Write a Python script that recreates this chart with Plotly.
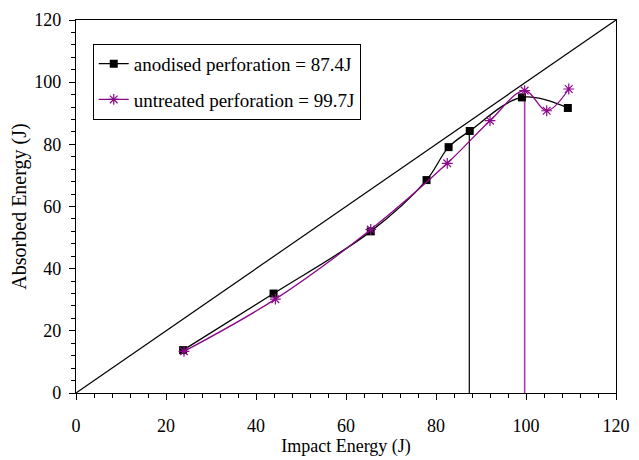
import plotly.graph_objects as go

# Data
anod_x = [23.8, 43.9, 65.5, 77.9, 82.8, 87.5, 99.1, 109.3]
anod_y = [13.8, 32.0, 52.0, 68.5, 79.1, 84.3, 95.1, 91.7]
untr_x = [24.0, 44.3, 65.5, 82.5, 92.0, 99.7, 104.6, 109.5]
untr_y = [13.4, 30.2, 52.6, 73.9, 87.6, 97.3, 90.8, 97.8]
perf_x = [87.4, 99.7]          # perforation energies
perf_top = [84.3, 97.3]         # top of the vertical markers
diag = [0, 120]

BLACK = "#000000"
PURPLE = "#8b088b"
FONT = "Liberation Serif"

fig = go.Figure()

fig.add_trace(go.Scatter(x=diag, y=diag, mode="lines",
                         line=dict(color=BLACK, width=1.2), showlegend=False, hoverinfo="skip"))
fig.add_trace(go.Scatter(x=[perf_x[0], perf_x[0]], y=[0, perf_top[0]], mode="lines",
                         line=dict(color=BLACK, width=1.2), showlegend=False))
fig.add_trace(go.Scatter(x=[perf_x[1], perf_x[1]], y=[0, perf_top[1]], mode="lines",
                         line=dict(color="#a83aa8", width=1.6), showlegend=False))

fig.add_trace(go.Scatter(x=anod_x, y=anod_y, mode="lines+markers",
                         name="anodised perforation = 87.4J", legendgroup="a",
                         line=dict(color=BLACK, width=1.3, shape="spline", smoothing=1.0),
                         marker=dict(symbol="square", size=8, color=BLACK)))
fig.add_trace(go.Scatter(x=untr_x, y=untr_y, mode="lines+markers",
                         name="untreated perforation = 99.7J", legendgroup="b",
                         line=dict(color=PURPLE, width=1.3, shape="spline", smoothing=1.0),
                         marker=dict(symbol="asterisk", size=9, color=PURPLE,
                                     line=dict(color=PURPLE, width=1.2))))

axis_common = dict(range=[0, 120], dtick=20, showgrid=False, zeroline=False,
                   showline=True, linecolor=BLACK, linewidth=1.2, mirror=True,
                   ticks="outside", ticklen=6, tickcolor=BLACK, tickwidth=1,
                   automargin=False,
                   tickfont=dict(family=FONT, size=18, color=BLACK),
                   minor=dict(dtick=4, ticks="outside", ticklen=4, tickcolor=BLACK, tickwidth=1))

fig.update_xaxes(**axis_common, ticklabelstandoff=10,
                 title=dict(text="Impact Energy (J)", font=dict(family=FONT, size=18, color=BLACK), standoff=0))
fig.update_yaxes(**axis_common, ticklabelstandoff=4,
                 title=dict(text="Absorbed Energy (J)", font=dict(family=FONT, size=20, color=BLACK), standoff=2))

fig.update_layout(
    width=639, height=460,
    margin=dict(l=76, r=23, t=20, b=67),
    paper_bgcolor="white", plot_bgcolor="white",
    font=dict(family=FONT, size=18, color=BLACK),
    legend=dict(x=0.031, y=0.936, xanchor="left", yanchor="top",
                bgcolor="white", bordercolor=BLACK, borderwidth=1,
                font=dict(family=FONT, size=19, color=BLACK),
                tracegroupgap=8, itemwidth=30),
)

fig.write_html("out.html")
